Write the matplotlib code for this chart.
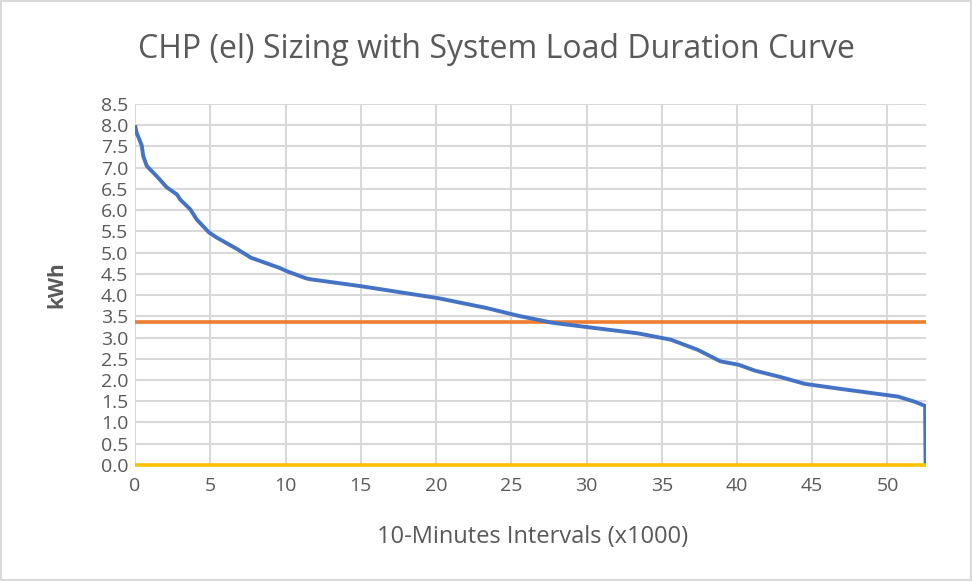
import numpy as np
import matplotlib.pyplot as plt

# Load duration curve (x in thousands of 10-minute intervals, y in kWh)
x_k = [0.0, 0.11, 0.44, 0.55, 0.78, 1.44, 2.1, 2.78, 3.0, 3.67, 4.1, 4.9, 5.4, 6.8, 7.7,
       9.6, 10.1, 11.4, 11.7, 15.0, 20.1, 23.3, 25.5, 27.7, 29.5, 33.4, 35.6, 37.4,
       38.9, 40.1, 41.2, 42.9, 44.5, 46.7, 50.7, 51.8, 52.5, 52.53]
load = [8.0, 7.82, 7.53, 7.27, 7.04, 6.8, 6.54, 6.37, 6.25, 6.02, 5.78, 5.48, 5.36, 5.08, 4.88,
        4.64, 4.56, 4.39, 4.37, 4.21, 3.93, 3.70, 3.51, 3.35, 3.27, 3.10, 2.95, 2.71,
        2.44, 2.36, 2.22, 2.07, 1.91, 1.80, 1.61, 1.49, 1.39, 0.0]
x_end = 52.56
chp_size = 3.37
base_line = 0.0

grey = '#595959'
plt.rcParams['font.family'] = ['Open Sans', 'DejaVu Sans']

fig = plt.figure(figsize=(9.72, 5.81), dpi=100)
fig.patch.set_edgecolor('#d9d9d9')
fig.patch.set_linewidth(1.5)
ax = fig.add_axes([0.1389, 0.1997, 0.8138, 0.6214])

ax.plot([0, x_end], [chp_size, chp_size], c='#ED7D31', lw=2.6, solid_capstyle='butt', zorder=3)
ax.plot(x_k, load, c='#4472C4', lw=2.8, solid_capstyle='butt', zorder=4)
ax.plot([0, x_end], [base_line, base_line], c='#FFC000', lw=2.6, solid_capstyle='butt',
        zorder=5, clip_on=False)

ax.set_xlim(0, x_end)
ax.set_ylim(0, 8.5)
ax.set_xticks(np.arange(0, 51, 5))
ax.set_yticks(np.arange(0, 8.51, 0.5))
ax.set_yticklabels([f'{v:.1f}' for v in np.arange(0, 8.51, 0.5)])
ax.grid(True, color='#d9d9d9', lw=1.5, zorder=0)
ax.set_axisbelow(True)
for s in ax.spines.values():
    s.set_visible(False)
ax.tick_params(length=0, labelsize=14, colors=grey)
ax.tick_params(axis='x', pad=9)
ax.tick_params(axis='y', pad=5)

fig.text(496 / 972, 1 - 50 / 581, 'CHP (el) Sizing with System Load Duration Curve',
         fontsize=23, color=grey, ha='center', va='center')
fig.text(533 / 972, 1 - 537 / 581, '10-Minutes Intervals (x1000)',
         fontsize=17, color=grey, ha='center', va='center')
fig.text(57 / 972, 1 - 285 / 581, 'kWh', fontsize=15, fontweight='bold', color=grey,
         ha='center', va='center', rotation=90)

plt.savefig('out.png', dpi=100, facecolor='w', edgecolor=fig.get_edgecolor())
